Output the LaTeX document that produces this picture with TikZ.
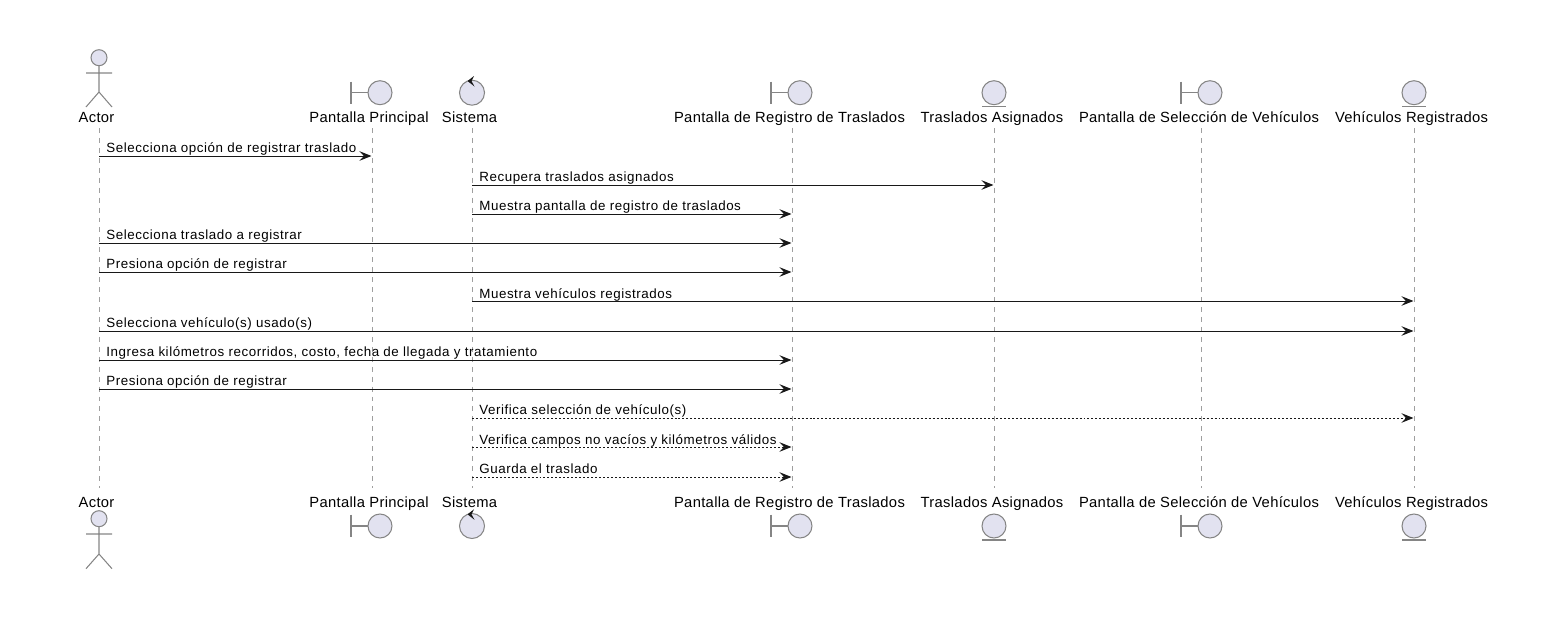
\documentclass[tikz,border=0pt]{standalone}
\usepackage{fontspec}
\setmainfont{Liberation Sans}
\newfontfamily\partfont[LetterSpace=2.2]{Liberation Sans}
\newfontfamily\msgfont[LetterSpace=4.2]{Liberation Sans}
\usetikzlibrary{arrows.meta}
\definecolor{iconfill}{HTML}{E2E2F0}
\definecolor{iconline}{HTML}{858585}
\definecolor{msgline}{HTML}{181818}
\tikzset{
  partlabel/.style={anchor=base, inner sep=0pt, font=\partfont\fontsize{8.4}{9}\selectfont, text=black},
  msglabel/.style={anchor=base west, inner sep=0pt, font=\msgfont\fontsize{7.6}{9}\selectfont, text=black},
  lifeline/.style={draw=gray!75, line width=0.55pt, dash pattern=on 2.83pt off 2.83pt},
  icon/.style={draw=iconline, fill=iconfill, line width=0.6pt},
  iconstroke/.style={draw=iconline, line width=0.6pt},
  msg/.style={draw=msgline, line width=0.55pt, -{Stealth[length=6.8pt, width=5.4pt, inset=2.5pt]}, shorten >=0.3pt},
  msgdash/.style={msg, dash pattern=on 1.13pt off 1.13pt},
}
\begin{document}
\begin{tikzpicture}[x=0.02cm, y=-0.02cm]
  \useasboundingbox (0,0) rectangle (1552,622);
  \coordinate (actorTop)    at (99,128);    \coordinate (actorBot)    at (99,488);
  \coordinate (principalTop) at (372,128);  \coordinate (principalBot) at (372,488);
  \coordinate (sistemaTop)  at (472,128);   \coordinate (sistemaBot)  at (472,488);
  \coordinate (registroTop) at (792,128);   \coordinate (registroBot) at (792,488);
  \coordinate (asignadosTop) at (994,128);  \coordinate (asignadosBot) at (994,488);
  \coordinate (seleccionTop) at (1201,128); \coordinate (seleccionBot) at (1201,488);
  \coordinate (vehiculosTop) at (1414,128); \coordinate (vehiculosBot) at (1414,488);
  \draw [lifeline] (actorTop)     -- (actorBot);     %
  \draw [lifeline] (principalTop) -- (principalBot); %
  \draw [lifeline] (sistemaTop)   -- (sistemaBot);   %
  \draw [lifeline] (registroTop)  -- (registroBot);  %
  \draw [lifeline] (asignadosTop) -- (asignadosBot); %
  \draw [lifeline] (seleccionTop) -- (seleccionBot); %
  \draw [lifeline] (vehiculosTop) -- (vehiculosBot); %
  \node [partlabel] (actorLabelTop)     at (96.5,122)   {Actor};
  \node [partlabel] (principalLabelTop) at (369,122)    {Pantalla Principal};
  \node [partlabel] (sistemaLabelTop)   at (469.5,122)  {Sistema};
  \node [partlabel] (registroLabelTop)  at (789.5,122)  {Pantalla de Registro de Traslados};
  \node [partlabel] (asignadosLabelTop) at (992,122)    {Traslados Asignados};
  \node [partlabel] (seleccionLabelTop) at (1199,122)   {Pantalla de Selección de Vehículos};
  \node [partlabel] (vehiculosLabelTop) at (1411.5,122) {Vehículos Registrados};
  \node [partlabel] (actorLabelBot)     at (96.5,507)   {Actor};
  \node [partlabel] (principalLabelBot) at (369,507)    {Pantalla Principal};
  \node [partlabel] (sistemaLabelBot)   at (469.5,507)  {Sistema};
  \node [partlabel] (registroLabelBot)  at (789.5,507)  {Pantalla de Registro de Traslados};
  \node [partlabel] (asignadosLabelBot) at (992,507)    {Traslados Asignados};
  \node [partlabel] (seleccionLabelBot) at (1199,507)   {Pantalla de Selección de Vehículos};
  \node [partlabel] (vehiculosLabelBot) at (1411.5,507) {Vehículos Registrados};
  % top icons
  \draw [icon] (99,57.7) circle [radius=8];
  \draw [iconstroke] (99,65.7) -- (99,92) (86,73) -- (112,73) (86,107) -- (99,92) -- (112,107);
  \draw [iconstroke] (351,81.7) -- (351,104) (351,92.7) -- (368,92.7);
  \draw [icon] (380,92.7) circle [radius=12];
  \draw [icon] (472,92.7) circle [radius=12.5];
  \fill [msgline] (474,76) -- (467.5,81) -- (474.5,86.5) -- (471.5,81) -- cycle;
  \draw [iconstroke] (771,81.7) -- (771,104) (771,92.7) -- (788,92.7);
  \draw [icon] (800,92.7) circle [radius=12];
  \draw [icon] (994,92.7) circle [radius=12];
  \draw [iconstroke] (982,106.7) -- (1006,106.7);
  \draw [iconstroke] (1181,81.7) -- (1181,104) (1181,92.7) -- (1198,92.7);
  \draw [icon] (1210,92.7) circle [radius=12];
  \draw [icon] (1414,92.7) circle [radius=12];
  \draw [iconstroke] (1402,106.7) -- (1426,106.7);
  % bottom icons
  \draw [icon] (99,518.7) circle [radius=8];
  \draw [iconstroke] (99,526.7) -- (99,554) (86,534) -- (112,534) (86,568.7) -- (99,554) -- (112,568.7);
  \draw [iconstroke] (351,514.7) -- (351,537) (351,526) -- (368,526);
  \draw [icon] (380,526) circle [radius=12];
  \draw [icon] (472,526) circle [radius=12.5];
  \fill [msgline] (474,509.3) -- (467.5,514.3) -- (474.5,519.8) -- (471.5,514.3) -- cycle;
  \draw [iconstroke] (771,514.7) -- (771,537) (771,526) -- (788,526);
  \draw [icon] (800,526) circle [radius=12];
  \draw [icon] (994,526) circle [radius=12];
  \draw [iconstroke] (982,540) -- (1006,540);
  \draw [iconstroke] (1181,514.7) -- (1181,537) (1181,526) -- (1198,526);
  \draw [icon] (1210,526) circle [radius=12];
  \draw [icon] (1414,526) circle [radius=12];
  \draw [iconstroke] (1402,540) -- (1426,540);
  % messages
  \draw [msg]     (actorTop |- 0,156)   -- (principalTop |- 0,156);
  \node [msglabel] (msgA) at (106,152)  {Selecciona opción de registrar traslado};
  \draw [msg]     (sistemaTop |- 0,185) -- (asignadosTop |- 0,185);
  \node [msglabel] (msgB) at (479,181)  {Recupera traslados asignados};
  \draw [msg]     (sistemaTop |- 0,214) -- (registroTop |- 0,214);
  \node [msglabel] (msgC) at (479,210)  {Muestra pantalla de registro de traslados};
  \draw [msg]     (actorTop |- 0,243)   -- (registroTop |- 0,243);
  \node [msglabel] (msgD) at (106,239)  {Selecciona traslado a registrar};
  \draw [msg]     (actorTop |- 0,272)   -- (registroTop |- 0,272);
  \node [msglabel] (msgE) at (106,268)  {Presiona opción de registrar};
  \draw [msg]     (sistemaTop |- 0,301) -- (vehiculosTop |- 0,301);
  \node [msglabel] (msgF) at (479,298)  {Muestra vehículos registrados};
  \draw [msg]     (actorTop |- 0,331)   -- (vehiculosTop |- 0,331);
  \node [msglabel] (msgG) at (106,327)  {Selecciona vehículo(s) usado(s)};
  \draw [msg]     (actorTop |- 0,360)   -- (registroTop |- 0,360);
  \node [msglabel] (msgH) at (106,356)  {Ingresa kilómetros recorridos, costo, fecha de llegada y tratamiento};
  \draw [msg]     (actorTop |- 0,389)   -- (registroTop |- 0,389);
  \node [msglabel] (msgI) at (106,385)  {Presiona opción de registrar};
  \draw [msgdash] (sistemaTop |- 0,418) -- (vehiculosTop |- 0,418);
  \node [msglabel] (msgJ) at (479,414)  {Verifica selección de vehículo(s)};
  \draw [msgdash] (sistemaTop |- 0,447) -- (registroTop |- 0,447);
  \node [msglabel] (msgK) at (479,444)  {Verifica campos no vacíos y kilómetros válidos};
  \draw [msgdash] (sistemaTop |- 0,477) -- (registroTop |- 0,477);
  \node [msglabel] (msgL) at (479,473)  {Guarda el traslado};
\end{tikzpicture}
\end{document}
